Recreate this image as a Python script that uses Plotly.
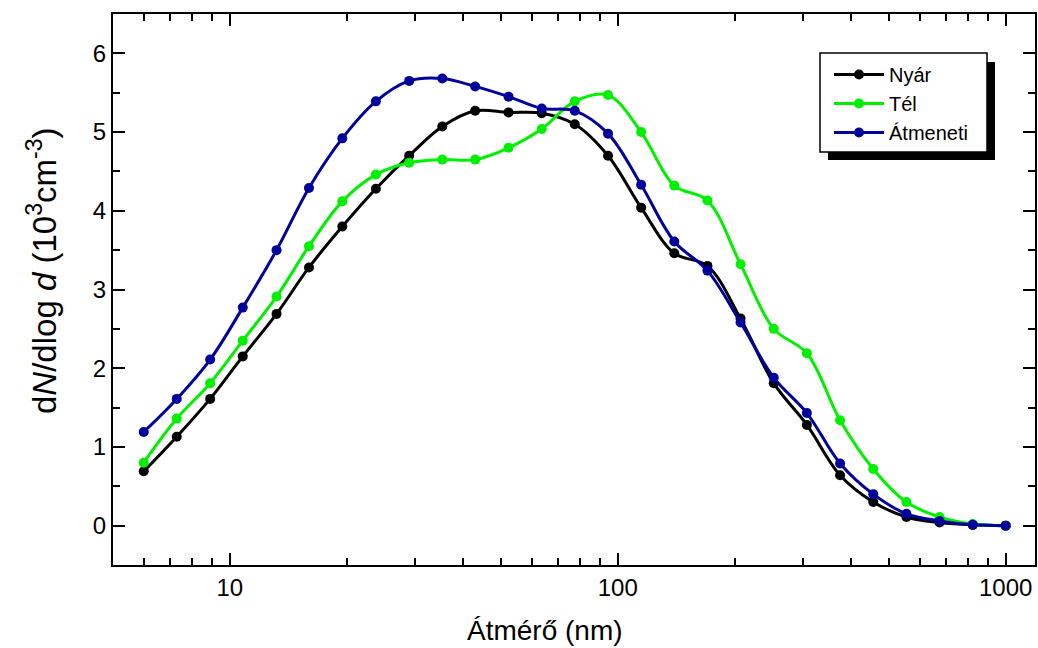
import numpy as np
import plotly.graph_objects as go

# particle diameters (nm)
atmero = [6.0, 7.3, 8.9, 10.8, 13.2, 16.0, 19.5, 23.8, 29.0, 35.3, 42.9, 52.3, 63.7,
          77.5, 94.4, 114.9, 139.9, 170.3, 207.3, 252.4, 307.3, 374.2, 455.6, 554.7,
          675.4, 822.3, 1000.0]

nyar = [0.69, 1.13, 1.61, 2.15, 2.69, 3.28, 3.80, 4.28, 4.70, 5.07, 5.27, 5.25, 5.24,
        5.10, 4.70, 4.04, 3.46, 3.30, 2.63, 1.81, 1.28, 0.64, 0.30, 0.11, 0.04, 0.01, 0.0]
tel = [0.80, 1.36, 1.81, 2.35, 2.91, 3.55, 4.12, 4.46, 4.61, 4.65, 4.65, 4.80, 5.04,
       5.39, 5.47, 5.00, 4.32, 4.13, 3.32, 2.50, 2.19, 1.34, 0.72, 0.30, 0.11, 0.02, 0.0]
atmeneti = [1.19, 1.61, 2.11, 2.77, 3.50, 4.29, 4.92, 5.39, 5.65, 5.68, 5.58, 5.45, 5.30,
            5.27, 4.98, 4.33, 3.61, 3.24, 2.58, 1.88, 1.43, 0.79, 0.40, 0.15, 0.06, 0.01, 0.0]

series = [("Nyár", nyar, "#000000"), ("Tél", tel, "#00F000"), ("Átmeneti", atmeneti, "#00009C")]

fig = go.Figure()
for name, vals, col in series:
    fig.add_scatter(x=atmero, y=vals, name=name, mode="lines+markers",
                    line=dict(color=col, width=3, shape="spline", smoothing=1),
                    marker=dict(color=col, size=10))

x_minor = [6, 7, 8, 9, 20, 30, 40, 50, 60, 70, 80, 90, 200, 300, 400, 500, 600, 700, 800, 900]
font = "Liberation Sans, Arial, sans-serif"

# plot area in pixels
L, R, T, B = 113, 1035, 14, 565
def px(x): return (x - L) / (R - L)
def py(y): return 1 - (y - T) / (B - T)

# legend frame + shadow
fig.add_shape(type="rect", xref="paper", yref="paper", x0=px(828), x1=px(995), y0=py(160), y1=py(62),
              fillcolor="black", line=dict(width=0))
fig.add_shape(type="rect", xref="paper", yref="paper", x0=px(820), x1=px(987), y0=py(152), y1=py(53),
              fillcolor="white", line=dict(color="black", width=1.5))

# axis titles
fig.add_annotation(text="Átmérő (nm)", xref="paper", yref="paper", x=px(545), y=py(630),
                   xanchor="center", yanchor="middle", showarrow=False, font=dict(size=28))
fig.add_annotation(text="d<i>N</i>/dlog <i>d</i> (10<sup>3</sup>cm<sup>-3</sup>)",
                   xref="paper", yref="paper", x=px(42), y=py(271), textangle=-90,
                   xanchor="center", yanchor="middle", showarrow=False, font=dict(size=33))

fig.update_layout(
    width=1038, height=648,
    margin=dict(l=L, r=1038 - R, t=T, b=648 - B, autoexpand=False),
    paper_bgcolor="white", plot_bgcolor="white",
    font=dict(family=font, size=24, color="black"),
    showlegend=True,
    legend=dict(x=px(829), y=py(55), xanchor="left", yanchor="top",
                bgcolor="rgba(0,0,0,0)", borderwidth=0, itemwidth=50,
                font=dict(size=20), tracegroupgap=0),
    xaxis=dict(type="log", range=[np.log10(5), np.log10(1190)],
               tickmode="array", tickvals=[10, 100, 1000], ticktext=["10", "100", "1000"],
               ticks="inside", ticklen=12, tickwidth=2, tickcolor="black",
               minor=dict(tickmode="array", tickvals=x_minor, ticks="inside", ticklen=7,
                          tickwidth=2, tickcolor="black", showgrid=False),
               showline=True, linewidth=2, linecolor="black", mirror="ticks",
               showgrid=False, zeroline=False, automargin=False),
    yaxis=dict(range=[-0.5, 6.5], tickvals=[0, 1, 2, 3, 4, 5, 6],
               ticks="inside", ticklen=12, tickwidth=2, tickcolor="black",
               minor=dict(dtick=0.5, ticks="inside", ticklen=7, tickwidth=2,
                          tickcolor="black", showgrid=False),
               showline=True, linewidth=2, linecolor="black", mirror="ticks",
               showgrid=False, zeroline=False, automargin=False),
)

# drop the browser's default body margin so the figure sits at the page corner
fig.write_html("out.html", config={"displayModeBar": False},
               post_script="document.body.style.margin='0';")
